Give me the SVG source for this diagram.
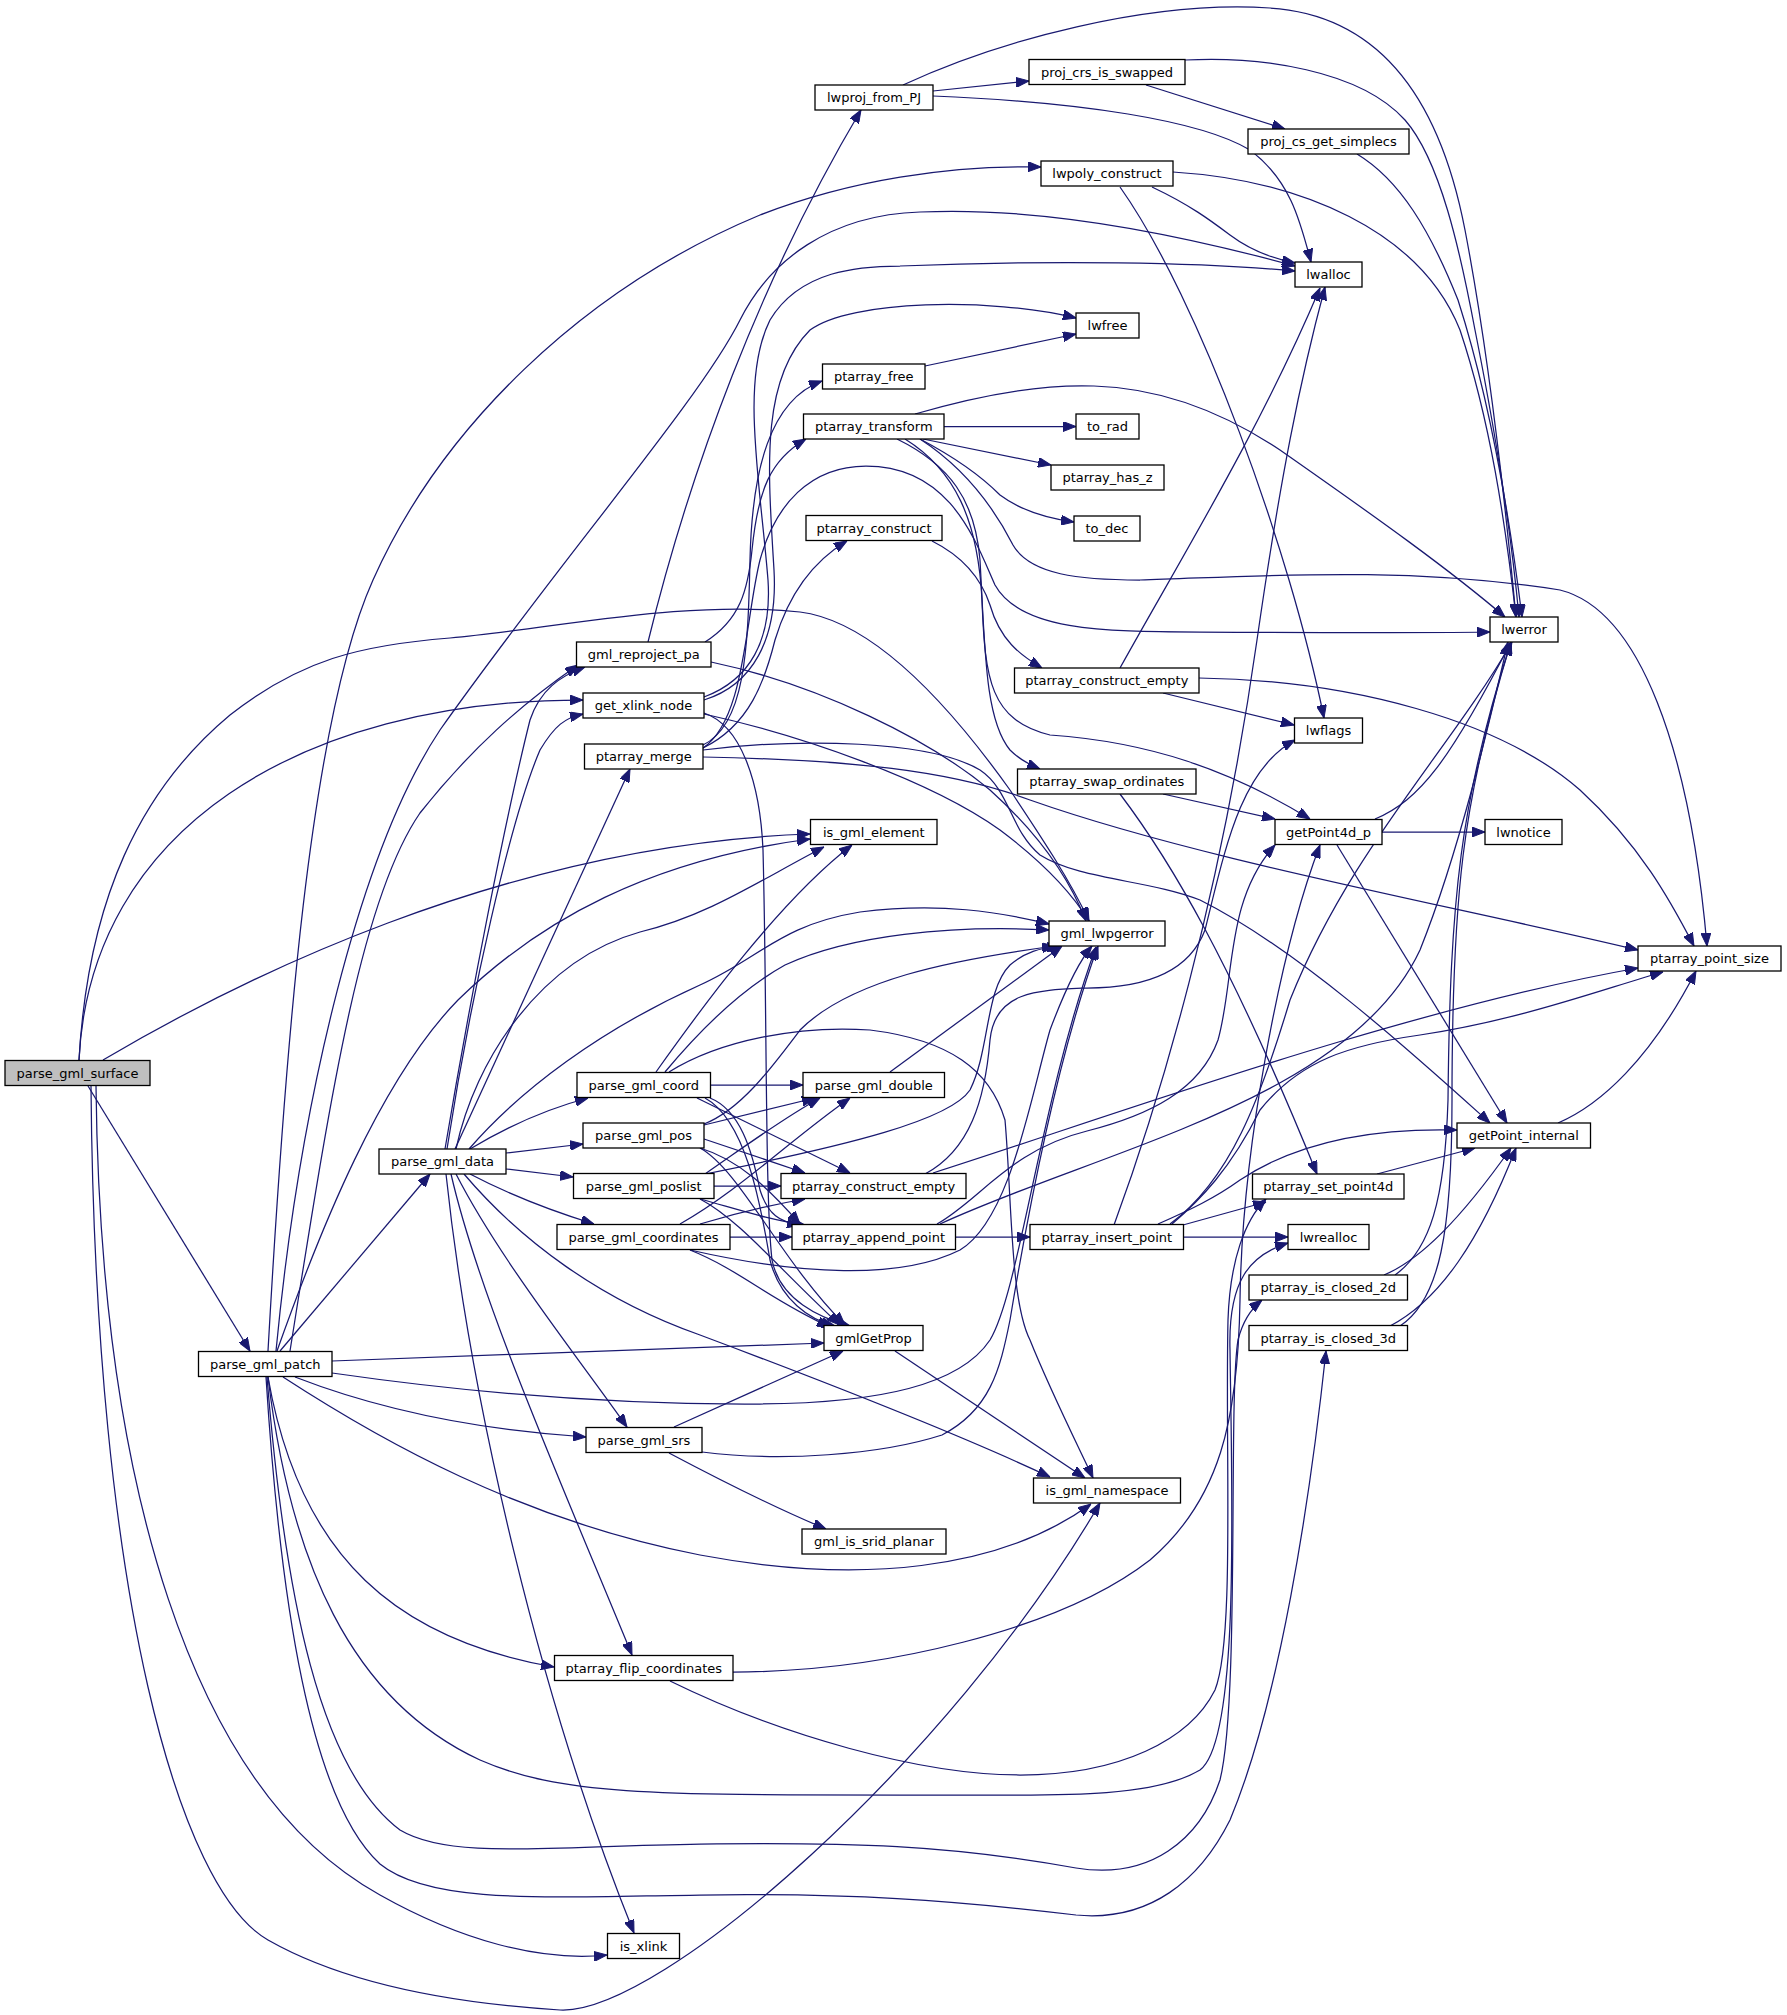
<svg xmlns="http://www.w3.org/2000/svg" width="1787" height="2015" viewBox="0 0 1787 2015">
<defs>
<marker id="a" viewBox="0 0 13 10" refX="13" refY="5" markerWidth="13" markerHeight="10" markerUnits="userSpaceOnUse" orient="auto"><path d="M0,0 L13,5 L0,10 z" fill="#191970" stroke="#191970" stroke-width="1"/></marker>
<style>
.node rect{fill:#ffffff;stroke:#000000;stroke-width:1.3}
.node text{font-family:"DejaVu Sans","Liberation Sans",sans-serif;font-size:13px;fill:#000000;text-anchor:middle}
#n_parse_gml_surface rect{fill:#bfbfbf}
.edges path{fill:none;stroke:#191970;stroke-width:1.25;marker-end:url(#a)}
</style>
</defs>
<rect x="0" y="0" width="1787" height="2015" fill="#ffffff"/>
<g class="edges" id="edges">
<path d="M88,1086 L250,1351"/>
<path d="M79,1060 C90,830 300,700 583,700"/>
<path d="M103,1060 C230,985 500,845 810,834"/>
<path d="M79,1060 C88,900 140,790 230,715 C300,660 360,645 450,638 C560,628 680,600 800,612 C880,622 960,720 1010,790 C1040,835 1070,880 1089,921"/>
<path d="M96,1086 C100,1480 190,1790 380,1895 C460,1940 540,1962 607,1955"/>
<path d="M91,1086 C95,1600 180,1890 268,1940 C356,1990 480,2005 560,2010 C660,2015 950,1760 1100,1503"/>
<path d="M268,1351 C285,1050 310,720 373,580 C440,430 580,290 760,215 C850,180 950,165 1041,167"/>
<path d="M276,1351 C300,1100 360,850 440,730 C560,560 700,400 740,320 C770,260 830,215 920,212 C1050,206 1200,240 1295,266"/>
<path d="M290,1351 C330,1100 360,900 420,813 C470,750 520,705 578,665"/>
<path d="M277,1351 C320,1230 380,1080 458,1000 C540,920 650,860 810,839"/>
<path d="M280,1351 L430,1174"/>
<path d="M332,1361 L824,1343"/>
<path d="M332,1373 C450,1390 600,1405 760,1404 C880,1403 960,1385 990,1340 C1020,1290 1040,1100 1096,947"/>
<path d="M295,1377 C380,1410 480,1430 586,1437"/>
<path d="M283,1377 C380,1440 520,1520 700,1555 C860,1585 1000,1570 1091,1504"/>
<path d="M268,1377 C300,1560 400,1640 554,1667"/>
<path d="M268,1377 C290,1560 350,1700 480,1760 C560,1795 650,1795 900,1795 C1050,1795 1150,1800 1200,1770 C1240,1740 1232,1500 1230,1350 C1228,1280 1250,1255 1288,1243"/>
<path d="M267,1377 C285,1600 320,1770 400,1830 C450,1860 550,1846 700,1844 C850,1842 950,1845 1076,1868 C1150,1880 1200,1840 1220,1780 C1240,1700 1228,1400 1238,1340 C1243,1320 1252,1308 1262,1300"/>
<path d="M266,1377 C280,1600 310,1800 380,1864 C430,1905 550,1897 700,1895 C850,1893 950,1900 1076,1915 C1150,1922 1200,1880 1230,1820 C1280,1700 1310,1500 1326,1351"/>
<path d="M447,1149 C470,1000 510,820 540,750 C555,725 565,718 583,714"/>
<path d="M445,1149 C470,1000 505,820 530,720 C540,690 560,676 585,667"/>
<path d="M455,1149 L630,769"/>
<path d="M456,1149 C475,1060 540,960 640,932 C710,915 760,880 824,847"/>
<path d="M469,1149 C520,1090 600,1030 700,985 C760,958 780,925 860,912 C940,902 1000,912 1049,924"/>
<path d="M470,1149 C510,1125 550,1108 588,1098"/>
<path d="M506,1153 L583,1144"/>
<path d="M506,1169 L573,1177"/>
<path d="M470,1174 C510,1195 555,1212 594,1224"/>
<path d="M446,1174 C470,1400 540,1700 634,1933"/>
<path d="M451,1174 C480,1300 560,1480 632,1655"/>
<path d="M456,1174 C500,1260 580,1360 627,1427"/>
<path d="M464,1174 C520,1240 600,1300 700,1335 C820,1380 950,1430 1050,1477"/>
<path d="M704,697 C750,680 772,640 768,580 C760,480 740,380 770,320 C800,270 860,266 900,266 C1050,260 1200,262 1295,271"/>
<path d="M704,700 C752,685 778,640 774,570 C768,470 760,380 810,330 C850,300 990,297 1076,318"/>
<path d="M704,714 C800,735 930,780 1000,830 C1040,860 1070,890 1089,921"/>
<path d="M704,713 C740,725 760,780 763,850 C767,1000 765,1200 772,1260 C780,1300 820,1318 850,1326"/>
<path d="M703,745 C745,725 748,650 750,560 C752,470 770,400 822,381"/>
<path d="M703,748 C750,725 765,680 775,640 C790,590 815,560 847,541"/>
<path d="M703,750 C800,738 930,740 980,770 C1010,790 1010,830 1040,855 C1080,880 1150,880 1200,900 C1300,950 1420,1060 1490,1123"/>
<path d="M703,757 C850,760 950,770 1030,800 C1200,860 1450,905 1638,950"/>
<path d="M703,748 C745,720 745,620 760,560 C775,505 810,466 866,466 C950,466 975,540 995,585 C1020,630 1100,632 1200,632 C1350,633 1420,633 1490,632"/>
<path d="M648,642 C690,470 760,280 861,110"/>
<path d="M705,642 C740,620 748,590 752,550 C758,490 770,460 806,439"/>
<path d="M711,662 C820,685 930,740 990,790 C1040,835 1070,880 1086,921"/>
<path d="M933,91 L1029,81"/>
<path d="M933,96 C1080,102 1200,120 1250,150 C1290,180 1300,220 1311,262"/>
<path d="M903,85 C1000,40 1150,0 1270,8 C1380,15 1440,100 1465,230 C1490,360 1505,500 1516,617"/>
<path d="M1146,85 L1285,129"/>
<path d="M1185,60 C1260,56 1360,70 1405,120 C1440,160 1460,250 1475,330 C1495,430 1510,520 1519,617"/>
<path d="M1357,154 C1400,180 1430,230 1458,300 C1490,400 1510,520 1522,617"/>
<path d="M1152,187 C1190,205 1210,220 1230,235 C1250,250 1270,258 1295,263"/>
<path d="M1173,172 C1300,180 1420,230 1460,330 C1490,420 1505,520 1516,617"/>
<path d="M1120,187 C1200,300 1290,550 1324,718"/>
<path d="M925,366 L1076,334"/>
<path d="M944,426.5 L1076,426.5"/>
<path d="M923,439 L1051,465"/>
<path d="M920,439 C960,460 985,480 1000,495 C1020,510 1045,518 1074,522"/>
<path d="M915,414 C980,395 1040,384 1094,386 C1160,388 1220,410 1280,450 C1380,520 1450,570 1505,617"/>
<path d="M920,439 C960,465 990,500 1013,545 C1030,575 1080,580 1140,580 C1250,577 1400,565 1560,590 C1640,610 1690,750 1707,946"/>
<path d="M897,439 C950,465 975,500 980,560 C985,650 985,720 1010,750 C1020,760 1030,765 1040,769"/>
<path d="M905,439 C955,470 978,520 982,600 C985,680 990,720 1050,735 C1150,742 1230,770 1310,819"/>
<path d="M932,541 C960,555 980,575 990,605 C1000,640 1020,655 1042,668"/>
<path d="M1120,668 C1180,560 1260,430 1320,288"/>
<path d="M1163,693 L1294,725"/>
<path d="M1199,678 C1350,680 1500,720 1580,790 C1640,845 1670,900 1694,946"/>
<path d="M1163,794 L1275,819"/>
<path d="M1120,794 C1170,860 1230,960 1317,1174"/>
<path d="M1382,832 L1485,832"/>
<path d="M1337,845 L1507,1123"/>
<path d="M1375,819 C1420,800 1450,760 1511,642"/>
<path d="M656,1072 C700,1010 780,900 852,845"/>
<path d="M665,1072 C700,1030 740,990 785,965 C850,935 950,925 1049,930"/>
<path d="M669,1072 C720,1040 800,1025 870,1030 C950,1040 990,1070 1005,1120 C1012,1200 1010,1300 1030,1340 C1050,1390 1080,1450 1093,1478"/>
<path d="M710.5,1085 L803,1085"/>
<path d="M697,1098 L850,1173"/>
<path d="M710,1098 C740,1110 752,1150 760,1190 C768,1215 780,1222 800,1225"/>
<path d="M705,1098 C745,1120 760,1200 770,1260 C780,1300 810,1320 835,1326"/>
<path d="M704,1124 C740,1110 770,1070 800,1030 C850,980 950,960 1055,946"/>
<path d="M704,1125 L815,1098"/>
<path d="M704,1139 L805,1173"/>
<path d="M700,1148 C740,1160 770,1190 800,1224"/>
<path d="M700,1148 C740,1170 780,1260 845,1325"/>
<path d="M714,1186 L781,1186"/>
<path d="M705,1174 C740,1150 780,1120 820,1098"/>
<path d="M705,1174 C850,1145 950,1120 970,1090 C990,1050 985,990 1010,965 C1025,952 1040,948 1060,946"/>
<path d="M700,1199 C740,1210 770,1220 805,1225"/>
<path d="M700,1199 C740,1220 780,1270 840,1325"/>
<path d="M700,1224 C740,1212 770,1205 805,1199"/>
<path d="M680,1224 C740,1190 790,1140 850,1098"/>
<path d="M730,1237 L792,1237"/>
<path d="M690,1250 C740,1270 770,1300 830,1327"/>
<path d="M690,1250 C800,1275 900,1280 960,1250 C1010,1220 1030,1100 1050,1030 C1065,990 1080,960 1092,946"/>
<path d="M890,1072 L1062,946"/>
<path d="M925,1174 C970,1150 985,1100 990,1040 C995,990 1040,990 1087,988 C1150,988 1190,970 1205,930 C1225,850 1240,770 1295,740"/>
<path d="M933,1173 C1100,1120 1400,1010 1638,968"/>
<path d="M955.5,1237 L1030,1237"/>
<path d="M937,1224 C980,1200 1010,1150 1087,1131 C1150,1115 1200,1090 1218,1040 C1235,980 1225,900 1275,845"/>
<path d="M940,1224 C1100,1150 1350,1100 1420,950 C1460,850 1490,720 1508,642"/>
<path d="M1183.5,1237 L1288,1237"/>
<path d="M1183,1225 L1266,1202"/>
<path d="M1158,1224 C1190,1210 1215,1198 1240,1180 C1300,1140 1380,1128 1457,1130"/>
<path d="M1114,1225 C1160,1100 1220,900 1257,640 C1280,480 1300,380 1325,287"/>
<path d="M1170,1224 C1230,1180 1260,1100 1290,1000 C1350,850 1450,750 1512,642"/>
<path d="M1172,1224 C1200,1200 1230,1170 1260,1110 C1300,1060 1350,1045 1420,1035 C1520,1020 1600,990 1663,972"/>
<path d="M1377,1174 L1475,1148"/>
<path d="M1384,1275 C1420,1260 1460,1220 1511,1148"/>
<path d="M1395,1275 C1430,1250 1445,1200 1448,1100 C1450,900 1460,800 1511,642"/>
<path d="M1390,1326 C1440,1300 1480,1240 1516,1148"/>
<path d="M1400,1326 C1440,1300 1452,1230 1452,1100 C1452,900 1462,800 1511,642"/>
<path d="M1558,1123 C1600,1105 1650,1060 1696,971"/>
<path d="M895,1351 L1085,1478"/>
<path d="M674,1427 L843,1351"/>
<path d="M669,1453 C720,1480 780,1510 826,1529"/>
<path d="M702,1452 C780,1462 880,1455 942,1435 C990,1410 1000,1370 1010,1320 C1030,1200 1060,1050 1098,946"/>
<path d="M733,1672 C880,1672 1060,1630 1150,1560 C1220,1500 1238,1420 1240,1300 C1242,1150 1280,950 1320,845"/>
<path d="M670,1681 C780,1735 920,1775 1020,1775 C1120,1775 1190,1740 1215,1690 C1235,1640 1225,1450 1228,1320 C1230,1260 1245,1220 1266,1199"/>
</g>
<g id="n_parse_gml_surface" class="node"><rect x="5" y="1060.5" width="145" height="25"/><text x="77.5" y="1077.5">parse_gml_surface</text></g>
<g id="n_parse_gml_patch" class="node"><rect x="198.5" y="1351.5" width="133.5" height="25"/><text x="265.25" y="1368.5">parse_gml_patch</text></g>
<g id="n_parse_gml_data" class="node"><rect x="379" y="1149" width="127" height="25"/><text x="442.5" y="1166">parse_gml_data</text></g>
<g id="n_lwproj_from_PJ" class="node"><rect x="815" y="85" width="118" height="25"/><text x="874" y="102">lwproj_from_PJ</text></g>
<g id="n_proj_crs_is_swapped" class="node"><rect x="1029" y="59.5" width="156" height="25"/><text x="1107" y="76.5">proj_crs_is_swapped</text></g>
<g id="n_proj_cs_get_simplecs" class="node"><rect x="1248" y="129" width="161" height="25"/><text x="1328.5" y="146">proj_cs_get_simplecs</text></g>
<g id="n_lwpoly_construct" class="node"><rect x="1041" y="161" width="132" height="25"/><text x="1107" y="178">lwpoly_construct</text></g>
<g id="n_lwalloc" class="node"><rect x="1295" y="262" width="67" height="25"/><text x="1328.5" y="279">lwalloc</text></g>
<g id="n_lwfree" class="node"><rect x="1076" y="313" width="63" height="25"/><text x="1107.5" y="330">lwfree</text></g>
<g id="n_ptarray_free" class="node"><rect x="822.5" y="364" width="102.5" height="25"/><text x="873.75" y="381">ptarray_free</text></g>
<g id="n_ptarray_transform" class="node"><rect x="803.5" y="414" width="140.5" height="25"/><text x="873.75" y="431">ptarray_transform</text></g>
<g id="n_to_rad" class="node"><rect x="1076" y="414" width="63" height="25"/><text x="1107.5" y="431">to_rad</text></g>
<g id="n_ptarray_has_z" class="node"><rect x="1051" y="465" width="113" height="25"/><text x="1107.5" y="482">ptarray_has_z</text></g>
<g id="n_to_dec" class="node"><rect x="1074" y="516" width="66" height="25"/><text x="1107" y="533">to_dec</text></g>
<g id="n_ptarray_construct" class="node"><rect x="806" y="515.5" width="136" height="25"/><text x="874" y="532.5">ptarray_construct</text></g>
<g id="n_lwerror" class="node"><rect x="1490" y="617" width="68" height="25"/><text x="1524" y="634">lwerror</text></g>
<g id="n_gml_reproject_pa" class="node"><rect x="576.5" y="642" width="134.5" height="25"/><text x="643.75" y="659">gml_reproject_pa</text></g>
<g id="n_ptarray_construct_empty_1" class="node"><rect x="1014.5" y="668" width="184.5" height="25"/><text x="1106.75" y="685">ptarray_construct_empty</text></g>
<g id="n_get_xlink_node" class="node"><rect x="583" y="693" width="121" height="25"/><text x="643.5" y="710">get_xlink_node</text></g>
<g id="n_lwflags" class="node"><rect x="1294.5" y="718" width="68" height="25"/><text x="1328.5" y="735">lwflags</text></g>
<g id="n_ptarray_merge" class="node"><rect x="584.5" y="744" width="118.5" height="25"/><text x="643.75" y="761">ptarray_merge</text></g>
<g id="n_ptarray_swap_ordinates" class="node"><rect x="1017.5" y="769" width="178.5" height="25"/><text x="1106.75" y="786">ptarray_swap_ordinates</text></g>
<g id="n_getPoint4d_p" class="node"><rect x="1275" y="819.5" width="107" height="25"/><text x="1328.5" y="836.5">getPoint4d_p</text></g>
<g id="n_lwnotice" class="node"><rect x="1485" y="819.5" width="77" height="25"/><text x="1523.5" y="836.5">lwnotice</text></g>
<g id="n_is_gml_element" class="node"><rect x="810.5" y="819.5" width="126.5" height="25"/><text x="873.75" y="836.5">is_gml_element</text></g>
<g id="n_gml_lwpgerror" class="node"><rect x="1049" y="921" width="116" height="25"/><text x="1107" y="938">gml_lwpgerror</text></g>
<g id="n_ptarray_point_size" class="node"><rect x="1638" y="946" width="143" height="25"/><text x="1709.5" y="963">ptarray_point_size</text></g>
<g id="n_parse_gml_coord" class="node"><rect x="577" y="1072.5" width="133.5" height="25"/><text x="643.75" y="1089.5">parse_gml_coord</text></g>
<g id="n_parse_gml_double" class="node"><rect x="803" y="1072.5" width="141.5" height="25"/><text x="873.75" y="1089.5">parse_gml_double</text></g>
<g id="n_getPoint_internal" class="node"><rect x="1457" y="1123" width="133.5" height="25"/><text x="1523.75" y="1140">getPoint_internal</text></g>
<g id="n_parse_gml_pos" class="node"><rect x="583" y="1123" width="121" height="25"/><text x="643.5" y="1140">parse_gml_pos</text></g>
<g id="n_parse_gml_poslist" class="node"><rect x="573.5" y="1173.5" width="140.5" height="25"/><text x="643.75" y="1190.5">parse_gml_poslist</text></g>
<g id="n_ptarray_construct_empty_2" class="node"><rect x="781" y="1173.5" width="185" height="25"/><text x="873.5" y="1190.5">ptarray_construct_empty</text></g>
<g id="n_ptarray_set_point4d" class="node"><rect x="1252.5" y="1174" width="151.5" height="25"/><text x="1328.25" y="1191">ptarray_set_point4d</text></g>
<g id="n_parse_gml_coordinates" class="node"><rect x="557" y="1224.5" width="173" height="25"/><text x="643.5" y="1241.5">parse_gml_coordinates</text></g>
<g id="n_ptarray_append_point" class="node"><rect x="792" y="1224.5" width="163.5" height="25"/><text x="873.75" y="1241.5">ptarray_append_point</text></g>
<g id="n_ptarray_insert_point" class="node"><rect x="1030" y="1224.5" width="153.5" height="25"/><text x="1106.75" y="1241.5">ptarray_insert_point</text></g>
<g id="n_lwrealloc" class="node"><rect x="1288" y="1224.5" width="81" height="25"/><text x="1328.5" y="1241.5">lwrealloc</text></g>
<g id="n_ptarray_is_closed_2d" class="node"><rect x="1249" y="1275" width="158.5" height="25"/><text x="1328.25" y="1292">ptarray_is_closed_2d</text></g>
<g id="n_gmlGetProp" class="node"><rect x="824" y="1325.5" width="99" height="25"/><text x="873.5" y="1342.5">gmlGetProp</text></g>
<g id="n_ptarray_is_closed_3d" class="node"><rect x="1249" y="1325.5" width="158.5" height="25"/><text x="1328.25" y="1342.5">ptarray_is_closed_3d</text></g>
<g id="n_parse_gml_srs" class="node"><rect x="586" y="1427.5" width="116" height="25"/><text x="644" y="1444.5">parse_gml_srs</text></g>
<g id="n_is_gml_namespace" class="node"><rect x="1033.5" y="1478" width="147" height="25"/><text x="1107" y="1495">is_gml_namespace</text></g>
<g id="n_gml_is_srid_planar" class="node"><rect x="802" y="1529" width="144" height="25"/><text x="874" y="1546">gml_is_srid_planar</text></g>
<g id="n_ptarray_flip_coordinates" class="node"><rect x="554.5" y="1655.5" width="178.5" height="25"/><text x="643.75" y="1672.5">ptarray_flip_coordinates</text></g>
<g id="n_is_xlink" class="node"><rect x="607.5" y="1933.5" width="72" height="25"/><text x="643.5" y="1950.5">is_xlink</text></g>
</svg>
